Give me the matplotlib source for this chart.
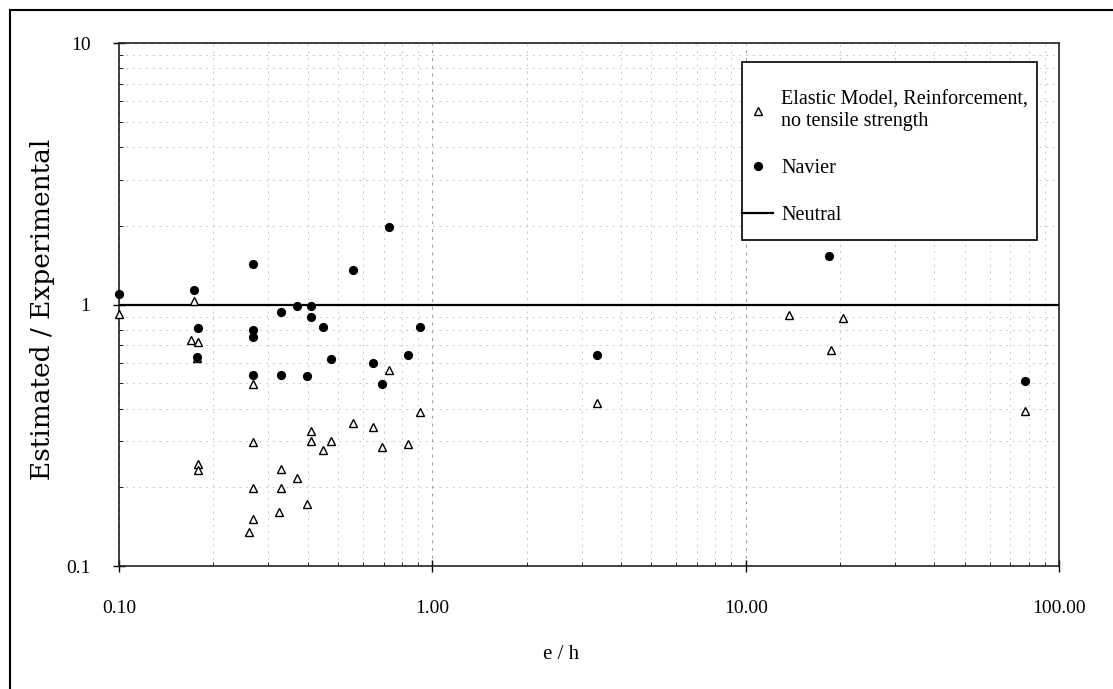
import matplotlib
matplotlib.use("Agg")
import matplotlib.pyplot as plt
from matplotlib.lines import Line2D
from matplotlib.patches import Rectangle

plt.rcParams['font.family'] = ['Liberation Serif', 'DejaVu Serif']

# Elastic Model, Reinforcement, no tensile strength (triangles)
elastic_x = [0.10, 0.174, 0.170, 0.179, 0.177, 0.179, 0.179,
             0.268, 0.268, 0.268, 0.268, 0.260,
             0.330, 0.330, 0.325, 0.371, 0.399, 0.411, 0.411, 0.449, 0.476,
             0.560, 0.648, 0.689, 0.730, 0.834, 0.911, 3.35, 13.7, 20.4, 18.7, 77.8]
elastic_y = [0.92, 1.03, 0.735, 0.716, 0.625, 0.245, 0.232,
             0.495, 0.297, 0.199, 0.151, 0.135,
             0.235, 0.199, 0.161, 0.218, 0.172, 0.327, 0.300, 0.277, 0.302,
             0.351, 0.339, 0.285, 0.560, 0.292, 0.387, 0.419, 0.916, 0.892, 0.673, 0.390]

# Navier (filled dots)
navier_x = [0.10, 0.174, 0.268, 0.560, 0.730, 18.5,
            0.179, 0.177, 0.268, 0.268, 0.268, 0.330, 0.330, 0.371, 0.411, 0.411,
            0.449, 0.399, 0.476, 0.645, 0.689, 0.834, 0.911, 3.35, 77.8]
navier_y = [1.10, 1.14, 1.43, 1.36, 1.98, 1.53,
            0.81, 0.63, 0.80, 0.75, 0.54, 0.94, 0.54, 0.99, 0.99, 0.90,
            0.817, 0.531, 0.617, 0.600, 0.495, 0.639, 0.817, 0.639, 0.508]

# Neutral line
neutral_x = [0.1, 100.0]
neutral_y = [1.0, 1.0]

x_ticks = [0.1, 1.0, 10.0, 100.0]
x_ticklabels = ["0.10", "1.00", "10.00", "100.00"]
y_ticks = [0.1, 1.0, 10.0]
y_ticklabels = ["0.1", "1", "10"]

fig = plt.figure(figsize=(11.13, 6.89), dpi=100)
ax = fig.add_axes([0.1069, 0.1785, 0.8446, 0.759])
ax.set_xscale('log')
ax.set_yscale('log')
ax.set_xlim(0.1, 100)
ax.set_ylim(0.1, 10)

ax.grid(True, which='major', color='#9a9a9a', linestyle=(0, (3, 5)), linewidth=0.7)
ax.grid(True, which='minor', color='#b8b8b8', linestyle=(0, (2, 6)), linewidth=0.6)
ax.set_axisbelow(True)

ax.plot(neutral_x, neutral_y, color='black', linewidth=1.6, label='Neutral', zorder=3)
ax.plot(elastic_x, elastic_y, linestyle='none', marker='^', markersize=5.5,
        markerfacecolor='white', markeredgecolor='black', markeredgewidth=1.0,
        label='Elastic Model, Reinforcement,\nno tensile strength', zorder=4, clip_on=False)
ax.plot(navier_x, navier_y, linestyle='none', marker='o', markersize=5.6,
        color='black', label='Navier', zorder=5, clip_on=False)

ax.set_xticks(x_ticks)
ax.set_xticklabels(x_ticklabels)
ax.set_yticks(y_ticks)
ax.set_yticklabels(y_ticklabels)
ax.tick_params(axis='both', which='major', direction='inout', length=9, width=1.0,
               labelsize=14)
ax.tick_params(axis='x', which='major', pad=20)
ax.tick_params(axis='y', which='major', pad=16)
ax.tick_params(axis='both', which='minor', direction='in', length=3, width=0.6,
               labelleft=False, labelbottom=False)
for s in ax.spines.values():
    s.set_linewidth(1.2)
    s.set_color('#222222')

ax.set_xlabel('e / h', fontsize=15)
ax.xaxis.set_label_coords(0.470, -0.151)
ax.set_ylabel('Estimated / Experimental', fontsize=19, family=['DejaVu Serif'])
ax.yaxis.set_label_coords(-0.068, 0.49)

# legend box
box = Rectangle((0.663, 0.623), 0.977 - 0.663, 0.9637 - 0.623, transform=ax.transAxes,
                facecolor='white', edgecolor='black', linewidth=1.2, zorder=9)
ax.add_patch(box)

handles, labels = ax.get_legend_handles_labels()
order = [1, 2, 0]
leg = ax.legend([handles[i] for i in order], [labels[i] for i in order],
                loc='upper left', bbox_to_anchor=(0.663, 0.909),
                frameon=False, fontsize=14.5, labelspacing=1.38, handlelength=1.55,
                handletextpad=0.38, borderpad=0.0, borderaxespad=0.0)
leg.set_zorder(10)

# page frame (left and top borders of the scanned figure box)
fig.add_artist(Line2D([0.009, 0.009], [0.0, 0.986], transform=fig.transFigure,
                      color='black', linewidth=1.5))
fig.add_artist(Line2D([0.009, 1.0], [0.986, 0.986], transform=fig.transFigure,
                      color='black', linewidth=1.5))

fig.savefig('out.png', dpi=100)
